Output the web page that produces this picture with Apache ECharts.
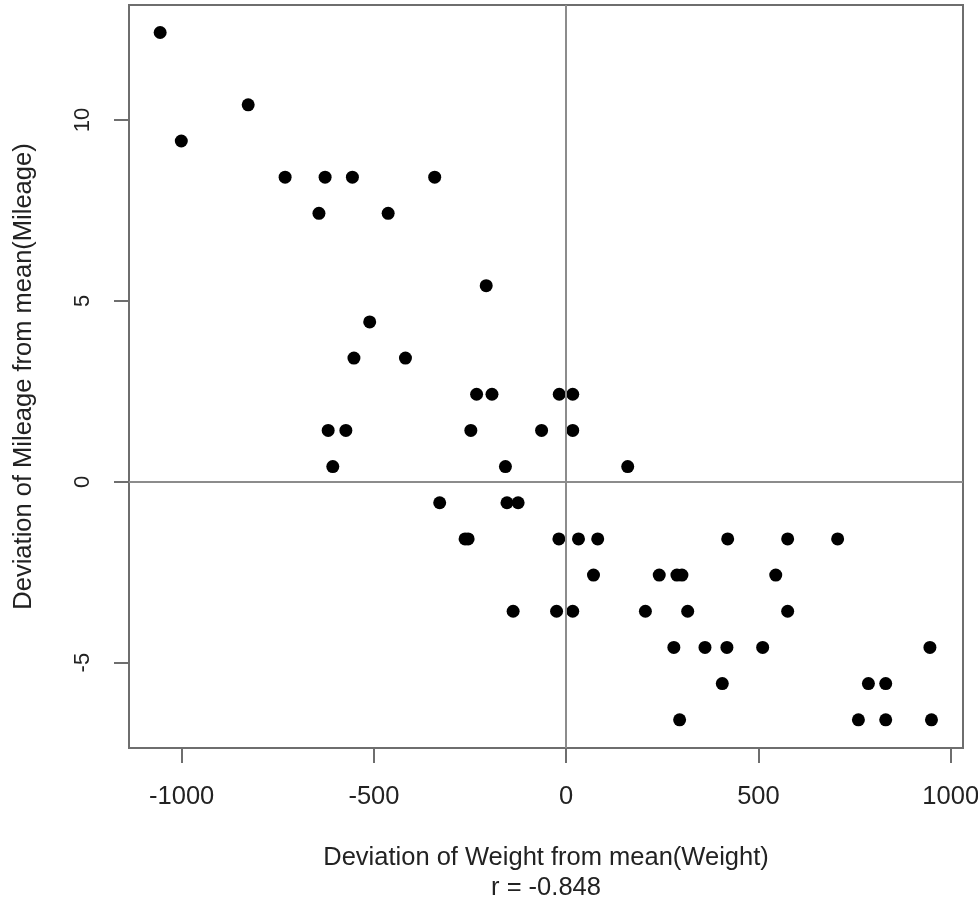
<!DOCTYPE html>
<html>
<head>
<meta charset="utf-8">
<script src="https://cdn.jsdelivr.net/npm/echarts@6/dist/echarts.min.js"></script>
<style>
  html, body { margin: 0; padding: 0; background: #fff; }
  #main { width: 978px; height: 901px; }
</style>
</head>
<body>
<div id="main"></div>
<script>
// deviations from the mean
var weightDev = [
    -1056, -827, -1001,
    -731, -627, -556, -342,
    -643, -463,
    -208, -511,
    -552, -418,
    -233, -193, -18, 17,
    -619, -573, -248, -64, 17,
    -607, -158, 160,
    -329, -154, -125,
    -263, -255, -19, 32, 82, 420, 576, 706,
    71, 242, 288, 301, 545,
    -138, -25, 17, 206, 316, 576,
    280, 361, 418, 511, 946,
    406, 786, 831,
    295, 760, 831, 950
];
var mileageDev = [
    12.42, 10.42, 9.42,
    8.42, 8.42, 8.42, 8.42,
    7.42, 7.42,
    5.42, 4.42,
    3.42, 3.42,
    2.42, 2.42, 2.42, 2.42,
    1.42, 1.42, 1.42, 1.42, 1.42,
    0.42, 0.42, 0.42,
    -0.58, -0.58, -0.58,
    -1.58, -1.58, -1.58, -1.58, -1.58, -1.58, -1.58, -1.58,
    -2.58, -2.58, -2.58, -2.58, -2.58,
    -3.58, -3.58, -3.58, -3.58, -3.58, -3.58,
    -4.58, -4.58, -4.58, -4.58, -4.58,
    -5.58, -5.58, -5.58,
    -6.58, -6.58, -6.58, -6.58
];
var xTicks = [-1000, -500, 0, 500, 1000];
var yTicks = [-5, 0, 5, 10];
var xTitle = 'Deviation of Weight from mean(Weight)';
var rLabel = 'r = -0.848';
var yTitle = 'Deviation of Mileage from mean(Mileage)';

var points = weightDev.map(function (w, i) { return [w, mileageDev[i]]; });

var font = 'Liberation Sans, Arial, sans-serif';
var textColor = '#222';
var frameColor = '#6e6e6e';

var myChart = echarts.init(document.getElementById('main'), null, { renderer: 'canvas' });

var option = {
    animation: false,
    backgroundColor: '#fff',
    grid: {
        left: 129,
        right: 15,
        top: 5,
        bottom: 153,
        outerBoundsMode: 'none',
        show: true,
        borderColor: frameColor,
        borderWidth: 2,
        backgroundColor: 'transparent'
    },
    xAxis: {
        type: 'value',
        min: -1137,
        max: 1032,
        axisLine: { show: false, onZero: false },
        splitLine: { show: false },
        axisTick: {
            show: true,
            inside: false,
            length: 15,
            customValues: xTicks,
            lineStyle: { color: frameColor, width: 2 }
        },
        axisLabel: {
            customValues: xTicks,
            formatter: function (v) { return String(v); },
            margin: 36,
            fontSize: 25.5,
            fontFamily: font,
            color: textColor
        },
        name: xTitle + '\n' + rLabel,
        nameLocation: 'middle',
        nameGap: 95,
        nameTextStyle: {
            fontSize: 25.5,
            fontFamily: font,
            color: textColor,
            lineHeight: 30
        }
    },
    yAxis: {
        type: 'value',
        min: -7.36,
        max: 13.18,
        axisLine: { show: false, onZero: false },
        splitLine: { show: false },
        axisTick: {
            show: true,
            inside: false,
            length: 15,
            customValues: yTicks,
            lineStyle: { color: frameColor, width: 2 }
        },
        axisLabel: {
            customValues: yTicks,
            formatter: function (v) { return String(v); },
            rotate: 90,
            margin: 35,
            fontSize: 22,
            fontFamily: font,
            color: textColor
        },
        name: yTitle,
        nameLocation: 'middle',
        nameGap: 92,
        nameTextStyle: {
            fontSize: 25.5,
            fontFamily: font,
            color: textColor
        }
    },
    series: [{
        type: 'scatter',
        data: points,
        symbol: 'circle',
        symbolSize: 13,
        itemStyle: { color: '#000', opacity: 1 },
        markLine: {
            silent: true,
            symbol: 'none',
            label: { show: false },
            lineStyle: { color: '#8c8c8c', width: 2, type: 'solid' },
            data: [{ xAxis: 0 }, { yAxis: 0 }]
        },
        z: 3
    }]
};

myChart.setOption(option);
</script>
</body>
</html>
